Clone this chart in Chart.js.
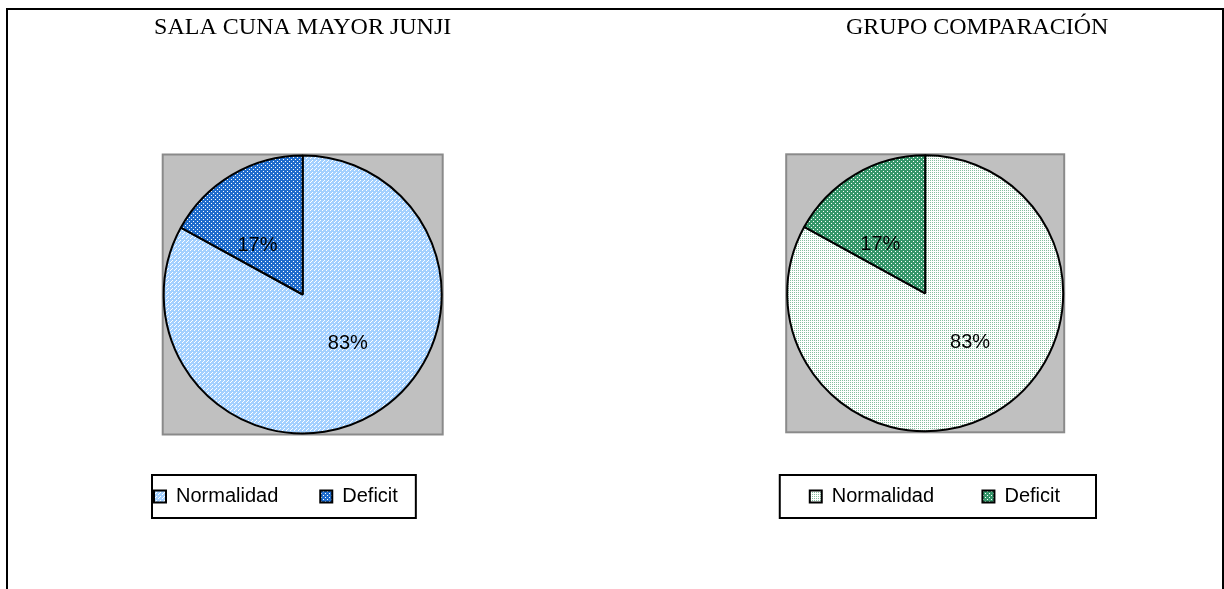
<!DOCTYPE html>
<html>
<head>
<meta charset="utf-8">
<script src="https://cdn.jsdelivr.net/npm/chart.js@4.4.1/dist/chart.umd.min.js"></script>
<style>
  html, body { margin: 0; padding: 0; background: #fff; overflow: hidden; }
  #frame { position: absolute; left: 6px; top: 8px; width: 1214px; height: 640px; border: 2px solid #000; border-bottom: none; }
  canvas { position: absolute; top: 0; }
  #junji { left: 0; }
  #comp { left: 612px; }
</style>
</head>
<body>
<div id="frame"></div>
<canvas id="junji" width="612" height="589"></canvas>
<canvas id="comp" width="612" height="589"></canvas>
<script>
// data
const categories = ["Normalidad", "Deficit"];
const junjiTitle = "SALA CUNA MAYOR JUNJI";
const compTitle = "GRUPO COMPARACIÓN";
const junjiValues = [83, 17];
const compValues = [83, 17];

const sansFont = "'Liberation Sans', Arial, sans-serif";
const serifFont = "'Liberation Serif', 'Times New Roman', serif";

// small repeating tiles to mimic the office fill patterns
function makePattern(base, dot, cells) {
  const c = document.createElement("canvas");
  c.width = 4;
  c.height = 4;
  const g = c.getContext("2d");
  g.fillStyle = base;
  g.fillRect(0, 0, 4, 4);
  g.fillStyle = dot;
  cells.forEach(([x, y]) => g.fillRect(x, y, 1, 1));
  return g.createPattern(c, "repeat");
}

const junjiFills = [
  makePattern("#a3d0ff", "#ffffff", [[0, 0], [2, 2], [3, 1]]),
  makePattern("#1f6ccc", "#ffffff", [[1, 1], [3, 3]])
];
const compFills = [
  makePattern("#ffffff", "#86bf9f", [[0, 0], [2, 0], [0, 2], [2, 2]]),
  makePattern("#35966a", "#ffffff", [[1, 1], [3, 3]])
];

// grey plot square behind the pie
const plotSquare = {
  id: "plotSquare",
  beforeDatasetsDraw(chart) {
    const arc = chart.getDatasetMeta(0).data[0];
    if (!arc) return;
    const s = arc.outerRadius + 1;
    const ctx = chart.ctx;
    ctx.save();
    ctx.fillStyle = "#c0c0c0";
    ctx.fillRect(arc.x - s, arc.y - s, 2 * s, 2 * s);
    ctx.strokeStyle = "#8a8a8a";
    ctx.lineWidth = 2;
    ctx.strokeRect(arc.x - s, arc.y - s, 2 * s, 2 * s);
    ctx.restore();
  }
};

// percentage labels inside slices
const sliceLabels = {
  id: "sliceLabels",
  afterDatasetsDraw(chart) {
    const meta = chart.getDatasetMeta(0);
    const data = chart.data.datasets[0].data;
    const total = data.reduce((a, b) => a + b, 0);
    const ctx = chart.ctx;
    ctx.save();
    ctx.font = "20px " + sansFont;
    ctx.fillStyle = "#000";
    ctx.textAlign = "center";
    ctx.textBaseline = "middle";
    meta.data.forEach((arc, i) => {
      const mid = (arc.startAngle + arc.endAngle) / 2 - 0.21;
      const r = arc.outerRadius * 0.48;
      const pct = Math.round(data[i] / total * 100) + "%";
      ctx.fillText(pct, arc.x + Math.cos(mid) * r, arc.y + Math.sin(mid) * r);
    });
    ctx.restore();
  }
};

// box round the legend
const legendFrame = {
  id: "legendFrame",
  afterDraw(chart, args, opts) {
    const boxes = chart.legend.legendHitBoxes;
    if (!boxes || !boxes.length) return;
    const first = boxes[0];
    const last = boxes[boxes.length - 1];
    const cy = first.top + first.height / 2;
    const x0 = first.left - opts.padLeft;
    const x1 = last.left + last.width + opts.padRight;
    const ctx = chart.ctx;
    ctx.save();
    ctx.strokeStyle = "#000";
    ctx.lineWidth = 2;
    ctx.strokeRect(x0, cy - opts.halfHeight, x1 - x0, 2 * opts.halfHeight);
    ctx.restore();
  }
};

function makePie(canvasId, title, values, fills, cfg) {
  const ctx = document.getElementById(canvasId).getContext("2d");
  return new Chart(ctx, {
    type: "pie",
    data: {
      labels: categories,
      datasets: [{
        data: values,
        backgroundColor: fills,
        borderColor: "#000",
        borderWidth: 2,
        hoverOffset: 0,
        hoverBorderWidth: 2
      }]
    },
    options: {
      responsive: false,
      devicePixelRatio: 1,
      animation: false,
      events: [],
      layout: {
        padding: { left: cfg.padLeft, right: cfg.padRight, top: 0, bottom: cfg.padBottom }
      },
      plugins: {
        tooltip: { enabled: false },
        title: {
          display: true,
          text: title,
          align: cfg.titleAlign,
          color: "#000",
          font: { family: serifFont, size: 24, weight: "normal", lineHeight: 1.2 },
          padding: { top: 13, bottom: cfg.titleGap }
        },
        legend: {
          position: "bottom",
          align: cfg.legendAlign,
          title: {
            display: cfg.legendSpacer > 0,
            text: "",
            padding: 0,
            font: { size: cfg.legendSpacer || 1, lineHeight: 1 }
          },
          labels: {
            boxWidth: 12,
            boxHeight: 12,
            padding: cfg.itemGap,
            color: "#000",
            font: { family: sansFont, size: 20 }
          }
        },
        legendFrame: cfg.frame
      }
    },
    plugins: [plotSquare, sliceLabels, legendFrame]
  });
}

makePie("junji", junjiTitle, junjiValues, junjiFills, {
  padLeft: 112, padRight: 118.6, padBottom: 72.5,
  titleAlign: "center", titleGap: 112.7,
  legendAlign: "start", legendSpacer: 10, itemGap: 42,
  frame: { padLeft: 2, padRight: 18, halfHeight: 21.5 }
});

makePie("comp", compTitle, compValues, compFills, {
  padLeft: 130, padRight: 115.6, padBottom: 72.5,
  titleAlign: "end", titleGap: 112.5,
  legendAlign: "end", legendSpacer: 5.8, itemGap: 48.4,
  frame: { padLeft: 30, padRight: 36, halfHeight: 21.5 }
});
</script>
</body>
</html>
